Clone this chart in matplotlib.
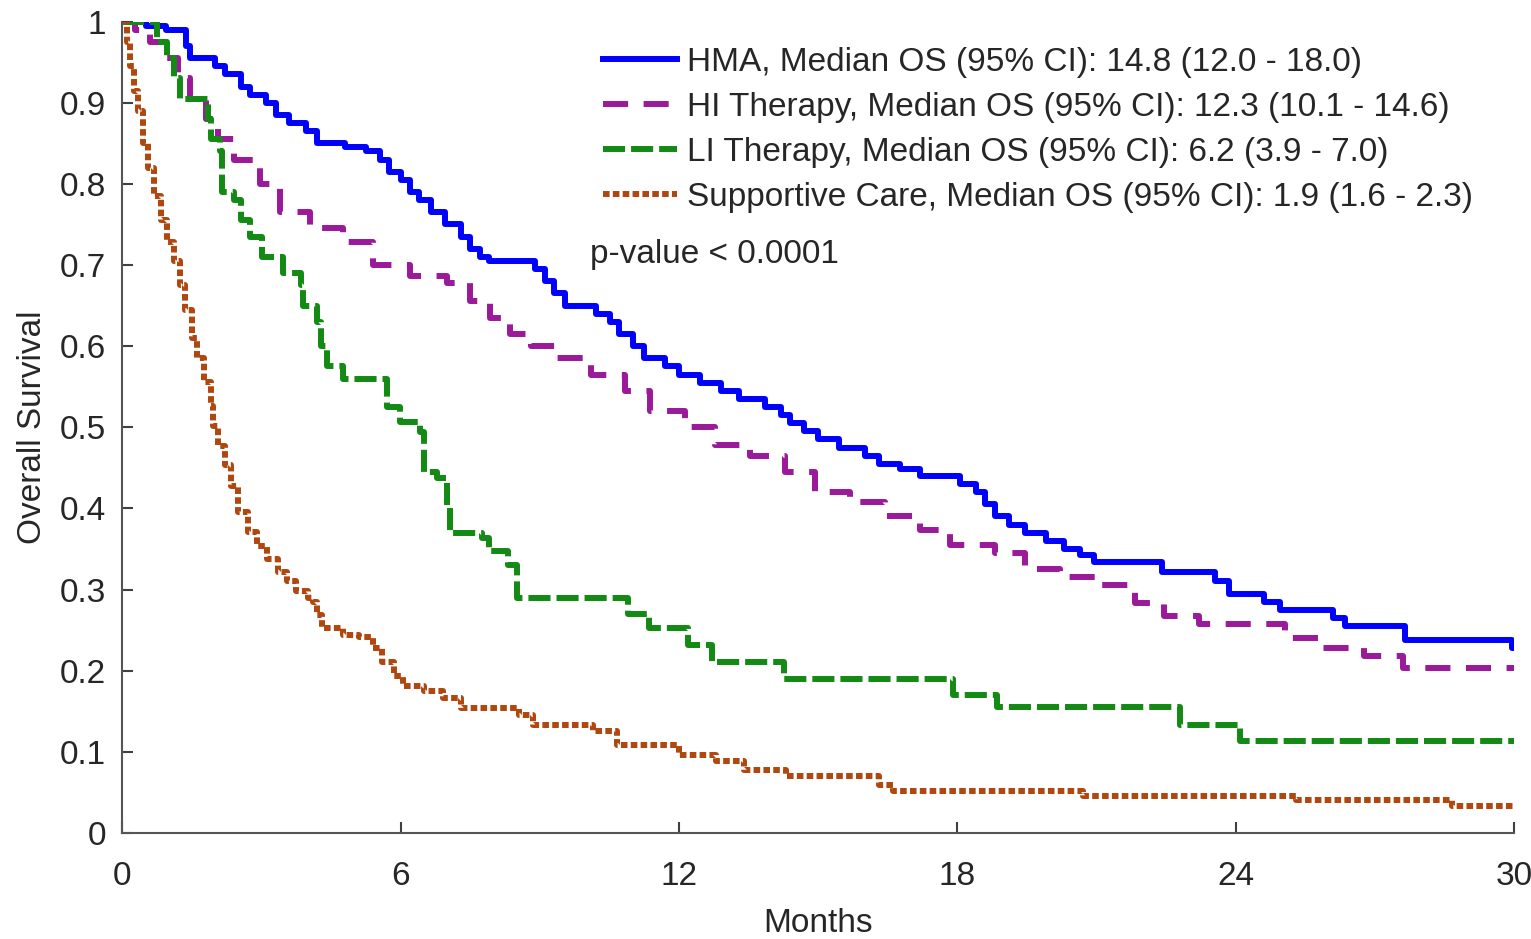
import matplotlib.pyplot as plt
from matplotlib.ticker import FormatStrFormatter

plt.rcParams['font.family'] = ['Liberation Sans', 'DejaVu Sans']

# Kaplan-Meier step points (months, survival)
hma_t = [0, 0.5, 0.93, 1.36, 1.46, 2.0, 2.2, 2.55, 2.75, 3.1, 3.3, 3.6, 3.95, 4.2,
         4.8, 5.25, 5.55, 5.75, 6.0, 6.2, 6.4, 6.65, 6.95, 7.3, 7.5, 7.7, 7.9,
         8.9, 9.1, 9.3, 9.55, 10.2, 10.5, 10.7, 11.0, 11.25, 11.7, 12.0, 12.45,
         12.9, 13.3, 13.85, 14.2, 14.4, 14.7, 15.0, 15.45, 16.0, 16.3, 16.75,
         17.2, 18.05, 18.4, 18.6, 18.8, 19.1, 19.45, 19.9, 20.3, 20.65, 20.95,
         22.4, 23.55, 23.85, 24.6, 24.95, 26.1, 26.35, 27.65, 29.95, 30]
hma_s = [1.0, 0.995, 0.99, 0.97, 0.955, 0.945, 0.935, 0.92, 0.91, 0.90, 0.885,
         0.875, 0.865, 0.85, 0.845, 0.84, 0.83, 0.815, 0.805, 0.79, 0.78, 0.765,
         0.75, 0.735, 0.72, 0.71, 0.705, 0.695, 0.68, 0.665, 0.65, 0.64, 0.63,
         0.615, 0.60, 0.585, 0.575, 0.565, 0.555, 0.545, 0.535, 0.525, 0.515,
         0.505, 0.495, 0.485, 0.475, 0.465, 0.455, 0.448, 0.44, 0.43, 0.42,
         0.405, 0.39, 0.38, 0.37, 0.36, 0.35, 0.342, 0.334, 0.322, 0.31, 0.295,
         0.285, 0.275, 0.265, 0.255, 0.238, 0.228, 0.228]

hi_t = [0, 0.28, 0.6, 0.93, 1.2, 1.46, 1.8, 2.05, 2.4, 2.97, 3.4, 4.05, 4.76, 5.4,
        6.2, 7.0, 7.5, 7.93, 8.36, 8.8, 9.33, 10.1, 10.83, 11.37, 12.13, 12.77,
        13.53, 14.28, 14.93, 15.68, 16.43, 17.19, 17.83, 18.8, 19.45, 20.2,
        21.06, 21.82, 22.46, 23.2, 25.05, 25.8, 26.77, 27.6, 30]
hi_s = [1.0, 0.99, 0.975, 0.955, 0.93, 0.905, 0.88, 0.855, 0.83, 0.80, 0.765,
        0.745, 0.728, 0.70, 0.686, 0.678, 0.655, 0.635, 0.615, 0.60, 0.585,
        0.565, 0.545, 0.52, 0.50, 0.478, 0.464, 0.445, 0.42, 0.408, 0.391,
        0.373, 0.355, 0.345, 0.325, 0.316, 0.306, 0.283, 0.267, 0.258, 0.24,
        0.228, 0.218, 0.203, 0.2]

li_t = [0, 0.75, 0.95, 1.1, 1.25, 1.85, 1.9, 2.1, 2.15, 2.4, 2.55, 2.75, 3.0,
        3.45, 3.85, 3.9, 4.2, 4.27, 4.4, 4.75, 5.7, 5.98, 6.42, 6.5, 6.78, 7.0,
        7.07, 7.75, 7.9, 8.3, 8.5, 10.9, 11.35, 12.2, 12.7, 14.25, 17.9, 18.85,
        22.8, 24.1, 30]
li_s = [1.0, 0.975, 0.955, 0.93, 0.905, 0.88, 0.855, 0.84, 0.79, 0.78, 0.755,
        0.735, 0.71, 0.69, 0.675, 0.65, 0.63, 0.60, 0.575, 0.56, 0.525, 0.507,
        0.494, 0.445, 0.437, 0.40, 0.37, 0.363, 0.347, 0.33, 0.289, 0.27,
        0.252, 0.231, 0.211, 0.19, 0.17, 0.155, 0.133, 0.113, 0.113]

sc_t = [0, 0.1, 0.17, 0.24, 0.34, 0.45, 0.54, 0.67, 0.82, 0.97, 1.1, 1.25, 1.35,
        1.5, 1.6, 1.75, 1.9, 1.95, 2.05, 2.2, 2.33, 2.48, 2.7, 2.9, 3.12, 3.35,
        3.55, 3.75, 4.0, 4.1, 4.2, 4.3, 4.75, 5.1, 5.4, 5.6, 5.85, 6.05, 6.5,
        6.9, 7.3, 8.55, 8.85, 10.15, 10.65, 12.0, 12.8, 13.4, 14.3, 16.3, 16.6,
        20.7, 25.3, 28.65, 30]
sc_s = [1.0, 0.975, 0.945, 0.915, 0.89, 0.85, 0.82, 0.785, 0.755, 0.728, 0.705,
        0.675, 0.645, 0.61, 0.585, 0.556, 0.526, 0.502, 0.477, 0.453, 0.428,
        0.396, 0.371, 0.354, 0.338, 0.322, 0.31, 0.298, 0.29, 0.285, 0.268,
        0.252, 0.244, 0.242, 0.228, 0.211, 0.194, 0.181, 0.175, 0.166, 0.154,
        0.145, 0.133, 0.125, 0.108, 0.096, 0.089, 0.078, 0.07, 0.059, 0.052,
        0.045, 0.041, 0.033, 0.033]

labels = ['HMA, Median OS (95% CI): 14.8 (12.0 - 18.0)',
          'HI Therapy, Median OS (95% CI): 12.3 (10.1 - 14.6)',
          'LI Therapy, Median OS (95% CI): 6.2 (3.9 - 7.0)',
          'Supportive Care, Median OS (95% CI): 1.9 (1.6 - 2.3)']

fig = plt.figure(figsize=(15.31, 9.39), dpi=100)
ax = fig.add_axes([0.080, 0.113, 0.909, 0.864])

lw = 4.3
ax.step(hma_t, hma_s, where='post', color='#0000ff', lw=lw, label=labels[0])
ax.step(hi_t, hi_s, where='post', color='#9a1a9a', lw=lw,
        linestyle=(0, (4.2, 2.6)), dash_capstyle='butt', label=labels[1])
ax.step(li_t, li_s, where='post', color='#138a13', lw=lw,
        linestyle=(0, (3.7, 1.0)), dash_capstyle='butt', label=labels[2])
ax.step(sc_t, sc_s, where='post', color='#b0470f', lw=lw,
        linestyle=(0, (1.1, 0.55)), dash_capstyle='butt', label=labels[3])

ax.set_xlim(0, 30)
ax.set_ylim(0, 1)
ax.set_xticks([0, 6, 12, 18, 24, 30])
ax.set_yticks([i / 10 for i in range(11)])
ax.yaxis.set_major_formatter(FormatStrFormatter('%g'))
ax.tick_params(direction='in', length=8, width=1.5, colors='#404040',
               labelsize=24, labelcolor='#262626')
ax.tick_params(axis='x', pad=20)
ax.tick_params(axis='y', pad=12)
for side in ['top', 'right']:
    ax.spines[side].set_visible(False)
for side in ['left', 'bottom']:
    ax.spines[side].set_color('#555555')
    ax.spines[side].set_linewidth(1.5)

ax.set_xlabel('Months', fontsize=24, color='#262626', labelpad=12)
ax.set_ylabel('Overall Survival', fontsize=24, color='#262626', labelpad=8)

leg = ax.legend(loc='upper left', bbox_to_anchor=(0.336, 0.985), frameon=False,
                fontsize=24, handlelength=2.2, handletextpad=0.3,
                labelspacing=0.42, borderaxespad=0)
for t in leg.get_texts():
    t.set_color('#262626')

ax.text(0.336, 0.713, 'p-value < 0.0001', transform=ax.transAxes,
        fontsize=24, color='#262626', va='center', ha='left')

plt.savefig('out.png', dpi=100)
